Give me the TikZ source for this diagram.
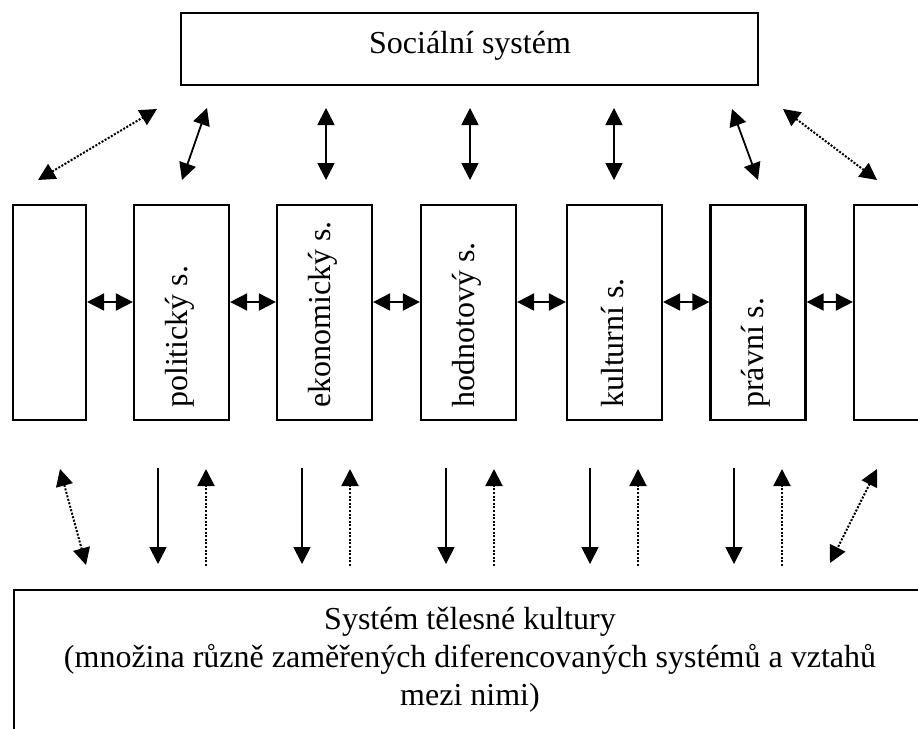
\documentclass[tikz,border=0pt]{standalone}
\usepackage{fontspec}
\setmainfont{Liberation Serif}
\usetikzlibrary{arrows.meta}
\begin{document}
\begin{tikzpicture}[x=1pt,y=-1pt,
  box/.style={draw,line width=2.2pt,rectangle,inner sep=0pt},
  sysbox/.style={box,minimum width=95pt,minimum height=215pt},
  big/.style={font=\fontsize{32}{37}\selectfont,inner sep=0pt},
  lbl/.style={big,rotate=90,anchor=west},
  two/.style={line width=1.8pt,{Triangle[length=17pt,width=17pt]}-{Triangle[length=17pt,width=17pt]}},
  one/.style={line width=1.8pt,-{Triangle[length=17pt,width=17pt]}},
  dots/.style={line width=2pt,dash pattern=on 2pt off 1.6pt}
]
\useasboundingbox (0,0) rectangle (918,728);
\clip (0,0) rectangle (918,728);

% top box
\node[box,minimum width=577pt,minimum height=72pt] (soc) at (469.5,49) {};
\node[big,anchor=base] (soct) at (470,53) {Sociální systém};

% system boxes
\node[box,minimum width=73pt,minimum height=215pt] (b1) at (49.5,312.5) {};
\node[sysbox] (b2) at (181.5,312.5) {};
\node[sysbox] (b3) at (324.5,312.5) {};
\node[sysbox] (b4) at (468.5,312.5) {};
\node[sysbox] (b5) at (614.5,312.5) {};
\node[sysbox] (b6) at (758,312.5) {};
\node[sysbox] (b7) at (901.5,312.5) {};

\node[lbl] (l2) at (179.5,408) {politický s.};
\node[lbl] (l3) at (322.5,408) {ekonomický s.};
\node[lbl] (l4) at (466.5,408) {hodnotový s.};
\node[lbl] (l5) at (612.5,408) {kulturní s.};
\node[lbl] (l6) at (756,408) {právní s.};

% bottom box
\node[box,minimum width=914pt,minimum height=200pt,anchor=north west] (tk) at (13,589) {};
\node[big,anchor=base] (t1) at (470,629) {Systém tělesné kultury};
\node[big,anchor=base] (t2) at (470,667) {(množina různě zaměřených diferencovaných systémů a vztahů};
\node[big,anchor=base] (t3) at (470,705) {mezi nimi)};

% horizontal arrows
\coordinate (h) at (0,302);
\foreach \a/\b in {b1/b2,b2/b3,b3/b4,b4/b5,b5/b6,b6/b7}
  \draw[two] (\a.east |- h) -- (\b.west |- h);

% top arrows
\coordinate (ta1) at (38,180);  \coordinate (tb1) at (157,109);
\coordinate (ta2) at (182,180); \coordinate (tb2) at (207,108);
\coordinate (ta3) at (326,180); \coordinate (tb3) at (326,108);
\coordinate (ta4) at (470,180); \coordinate (tb4) at (470,108);
\coordinate (ta5) at (614,180); \coordinate (tb5) at (614,108);
\coordinate (ta6) at (758,180); \coordinate (tb6) at (732,109);
\coordinate (ta7) at (877,180); \coordinate (tb7) at (783,109);
\draw[two,dots] (ta1) -- (tb1);
\foreach \i in {2,3,4,5,6} \draw[two] (ta\i) -- (tb\i);
\draw[two,dots] (ta7) -- (tb7);

% bottom arrows
\coordinate (ba1) at (60,469);  \coordinate (bb1) at (86,565);
\coordinate (ba7) at (877,469); \coordinate (bb7) at (830,563);
\draw[two,dots] (ba1) -- (bb1);
\draw[two,dots] (ba7) -- (bb7);
\foreach \x [count=\i] in {158,302,446,590,734} {
  \coordinate (ds\i) at (\x,468);
  \coordinate (de\i) at (\x,564);
  \coordinate (us\i) at (\x+48,566);
  \coordinate (ue\i) at (\x+48,469);
  \draw[one] (ds\i) -- (de\i);
  \draw[one,dots] (us\i) -- (ue\i);
}
\end{tikzpicture}
\end{document}
